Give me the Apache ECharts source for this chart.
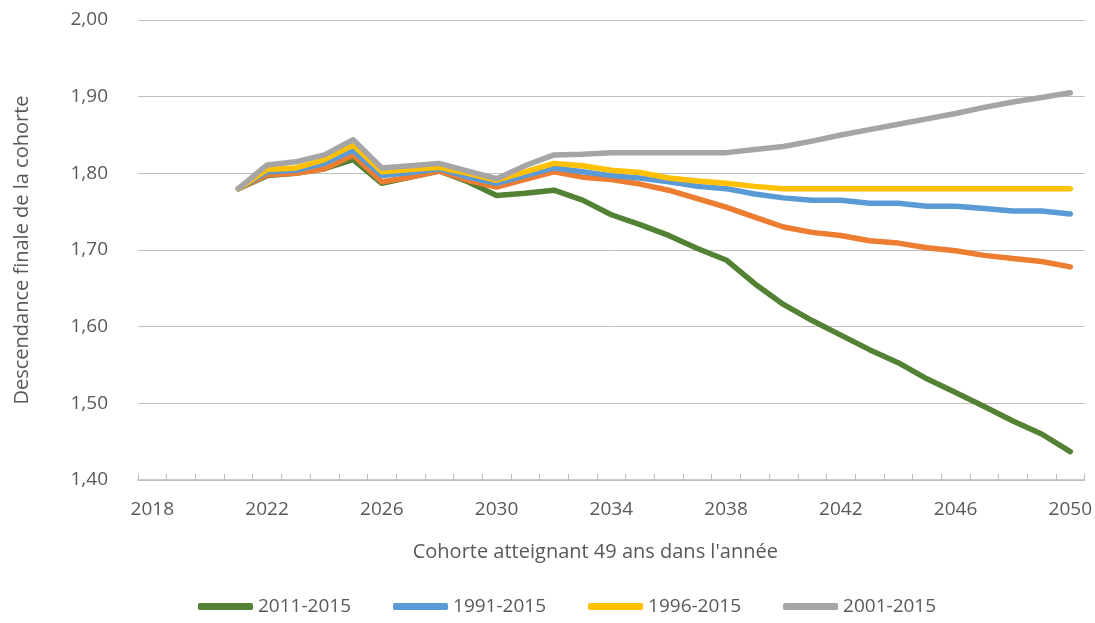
<!DOCTYPE html>
<html>
<head>
<meta charset="utf-8">
<script src="https://cdn.jsdelivr.net/npm/echarts@6/dist/echarts.min.js"></script>
<style>
  html, body { margin: 0; padding: 0; background: #fff; }
  #chart { width: 1095px; height: 623px; }
</style>
</head>
<body>
<div id="chart"></div>
<script>
// cohort years 2018..2050
const years = []
for (let y = 2018; y <= 2050; y++) years.push(String(y))

// values start in 2021 (first three years empty)
const s2011 = [null, null, null, 1.78, 1.797, 1.800, 1.806, 1.818, 1.787, 1.795, 1.803, 1.789, 1.771, 1.774, 1.778,
  1.765, 1.746, 1.733, 1.719, 1.702, 1.687, 1.656, 1.629, 1.608, 1.589, 1.570, 1.553, 1.532, 1.514, 1.496, 1.477, 1.460, 1.437]
const s2006 = [null, null, null, 1.78, 1.798, 1.800, 1.806, 1.824, 1.789, 1.795, 1.803, 1.791, 1.782, 1.792, 1.802,
  1.795, 1.792, 1.786, 1.778, 1.767, 1.756, 1.743, 1.730, 1.723, 1.719, 1.712, 1.709, 1.703, 1.699, 1.693, 1.689, 1.685, 1.678]
const s1991 = [null, null, null, 1.78, 1.802, 1.804, 1.813, 1.830, 1.797, 1.801, 1.806, 1.795, 1.787, 1.797, 1.807,
  1.802, 1.797, 1.794, 1.789, 1.783, 1.780, 1.773, 1.768, 1.765, 1.765, 1.761, 1.761, 1.757, 1.757, 1.754, 1.751, 1.751, 1.747]
const s1996 = [null, null, null, 1.78, 1.805, 1.807, 1.818, 1.837, 1.802, 1.805, 1.808, 1.800, 1.791, 1.802, 1.813,
  1.810, 1.804, 1.801, 1.794, 1.790, 1.787, 1.783, 1.780, 1.780, 1.780, 1.780, 1.780, 1.780, 1.780, 1.780, 1.780, 1.780, 1.780]
const s2001 = [null, null, null, 1.78, 1.811, 1.815, 1.824, 1.844, 1.807, 1.810, 1.813, 1.803, 1.793, 1.810, 1.824,
  1.825, 1.827, 1.827, 1.827, 1.827, 1.827, 1.831, 1.835, 1.842, 1.850, 1.857, 1.864, 1.871, 1.878, 1.886, 1.893, 1.899, 1.905]

const legendNames = ['2011-2015', '1991-2015', '1996-2015', '2001-2015']

const font = '"Open Sans", "Noto Sans", sans-serif'
const textColor = '#595959'

function line (name, data, color) {
  return {
    name: name,
    type: 'line',
    data: data,
    showSymbol: false,
    symbol: 'none',
    color: color,
    lineStyle: { width: 5.5, color: color, cap: 'round', join: 'round' },
    animation: false
  }
}

let myChart = echarts.init(document.getElementById('chart'))
myChart.setOption({
  backgroundColor: '#fff',
  textStyle: { fontFamily: font },
  grid: {
    top: 20,
    left: 138,
    right: 10,
    bottom: 143
  },
  legend: {
    data: legendNames,
    left: 193,
    bottom: 2,
    icon: 'roundRect',
    itemWidth: 55,
    itemHeight: 7,
    itemGap: 42,
    textStyle: { color: textColor, fontSize: 19, fontFamily: font }
  },
  xAxis: {
    type: 'category',
    data: years,
    boundaryGap: true,
    axisLine: { lineStyle: { color: '#BFBFBF', width: 1.5 } },
    axisTick: { show: true, inside: true, length: 6, interval: 0, lineStyle: { color: '#BFBFBF' } },
    axisLabel: { interval: 3, color: textColor, fontSize: 19, margin: 20 },
    name: "Cohorte atteignant 49 ans dans l'année",
    nameLocation: 'middle',
    nameGap: 62,
    nameTextStyle: { color: textColor, fontSize: 20, padding: [0, 32, 0, 0] }
  },
  yAxis: {
    type: 'value',
    min: 1.4,
    max: 2.0,
    interval: 0.1,
    axisLine: { show: false },
    axisTick: { show: false },
    splitLine: { lineStyle: { color: '#BFBFBF', width: 1 } },
    axisLabel: {
      color: textColor,
      fontSize: 19,
      margin: 30,
      formatter: v => v.toFixed(2).replace('.', ',')
    },
    name: 'Descendance finale de la cohorte',
    nameLocation: 'middle',
    nameGap: 106,
    nameTextStyle: { color: textColor, fontSize: 20 }
  },
  series: [
    line('2011-2015', s2011, '#548235'),
    line('2006-2015', s2006, '#ED7D31'),
    line('1991-2015', s1991, '#5B9BD5'),
    line('1996-2015', s1996, '#FFC000'),
    line('2001-2015', s2001, '#A5A5A5')
  ]
})
window.addEventListener('resize', () => {
  myChart.resize()
})
</script>
</body>
</html>
